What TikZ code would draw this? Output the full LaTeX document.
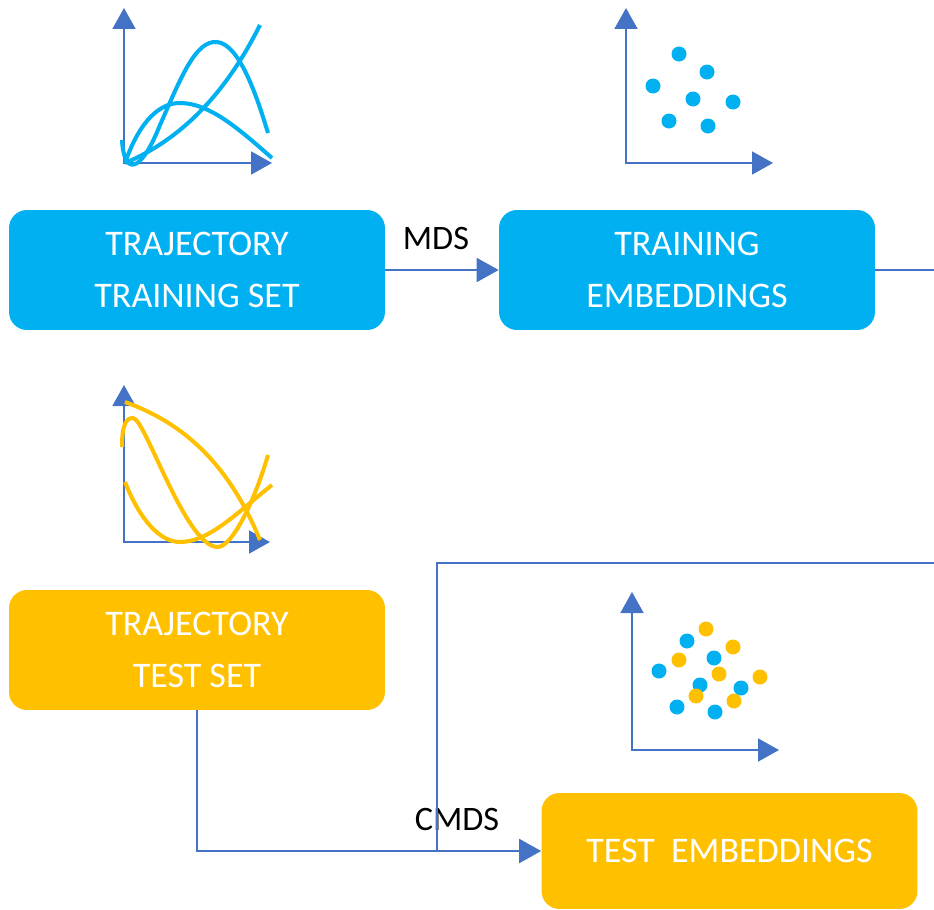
\documentclass[tikz,border=0pt]{standalone}
\usepackage{fontspec}
\setmainfont{Carlito}
\usetikzlibrary{arrows.meta, positioning}
\definecolor{boxcyan}{HTML}{00B0F0}
\definecolor{boxamber}{HTML}{FFC000}
\definecolor{linkblue}{HTML}{4472C4}

\tikzset{
	stage/.style={rounded corners=0.36cm, minimum width=7.52cm, minimum height=2.4cm,
		align=center, text=white, font=\fontsize{20.5}{30}\selectfont, inner sep=0pt},
	flow/.style={draw=linkblue, line width=1.1pt, -{Triangle[length=0.44cm, width=0.48cm]}},
	link/.style={draw=linkblue, line width=1.1pt},
	axes/.style={draw=linkblue, line width=1.1pt,
		{Triangle[length=0.42cm, width=0.46cm]}-{Triangle[length=0.42cm, width=0.46cm]}},
	curve/.style={line width=2.3pt},
	dot/.style={circle, inner sep=0pt, minimum size=0.3cm}
}

\begin{document}
\begin{tikzpicture}[x=0.02cm, y=-0.02cm]
	\useasboundingbox (0,0) rectangle (934,910);

	% boxes
	\node[stage, fill=boxcyan] (trainset) at (197,270) {TRAJECTORY\\TRAINING SET};
	\node[stage, fill=boxcyan] (trainemb) at (687,270) {TRAINING\\EMBEDDINGS};
	\node[stage, fill=boxamber] (testset) at (197,650) {TRAJECTORY\\TEST SET};
	\node[stage, fill=boxamber, minimum height=2.32cm] (testemb) at (729.5,851) {TEST~~EMBEDDINGS};

	% labels
	\node[font=\fontsize{19.5}{24}\selectfont] (mds) at (436,238) {MDS};
	\node[font=\fontsize{19.5}{24}\selectfont] (cmds) at (457,819) {CMDS};

	% connectors
	\coordinate (rightedge) at (934,270);
	\coordinate (rightlow) at (934,563);
	\coordinate (joint) at (437,851);
	\draw[flow] (trainset) -- (trainemb);
	\draw[link] (trainemb) -- (rightedge);
	\draw[flow] (testset.south) |- (testemb.west);
	\draw[link] (rightlow) -| (joint);

	% training trajectories
	\draw[axes] (124,8) -- (124,163) -- (272,163);
	\begin{scope}[draw=boxcyan]
		\draw[curve] (125,163) .. controls (180,140) and (225,95) .. (260,25);
		\draw[curve] (122,140) .. controls (124,175) and (140,175) .. (160,125)
			.. controls (180,80) and (195,40) .. (217,42)
			.. controls (240,44) and (258,100) .. (268,133);
		\draw[curve] (125,163) .. controls (140,120) and (160,103) .. (180,103)
			.. controls (210,103) and (240,130) .. (272,158);
	\end{scope}

	% training embeddings
	\draw[axes] (626,8) -- (626,163) -- (773,163);
	\foreach \px/\py in {679/54, 707/72, 653/86, 693/99, 733/102, 669/121, 708/126}
		\node[dot, fill=boxcyan] at (\px,\py) {};

	% test trajectories
	\draw[axes] (124,385) -- (124,542) -- (270,542);
	\begin{scope}[draw=boxamber]
		\draw[curve] (125,402) .. controls (175,420) and (225,455) .. (260,540);
		\draw[curve] (122,447) .. controls (122,425) and (126,418) .. (133,418)
			.. controls (145,418) and (185,545) .. (217,547)
			.. controls (232,548) and (255,500) .. (268,455);
		\draw[curve] (125,482) .. controls (140,520) and (160,542) .. (180,542)
			.. controls (210,542) and (240,510) .. (272,485);
	\end{scope}

	% test embeddings
	\draw[axes] (632,592) -- (632,750) -- (779,750);
	\foreach \px/\py in {687/641, 714/658, 659/671, 700/685, 741/688, 677/707, 715/712}
		\node[dot, fill=boxcyan] at (\px,\py) {};
	\foreach \px/\py in {706/629, 733/647, 679/660, 719/674, 760/677, 696/696, 734/701}
		\node[dot, fill=boxamber] at (\px,\py) {};
\end{tikzpicture}
\end{document}
